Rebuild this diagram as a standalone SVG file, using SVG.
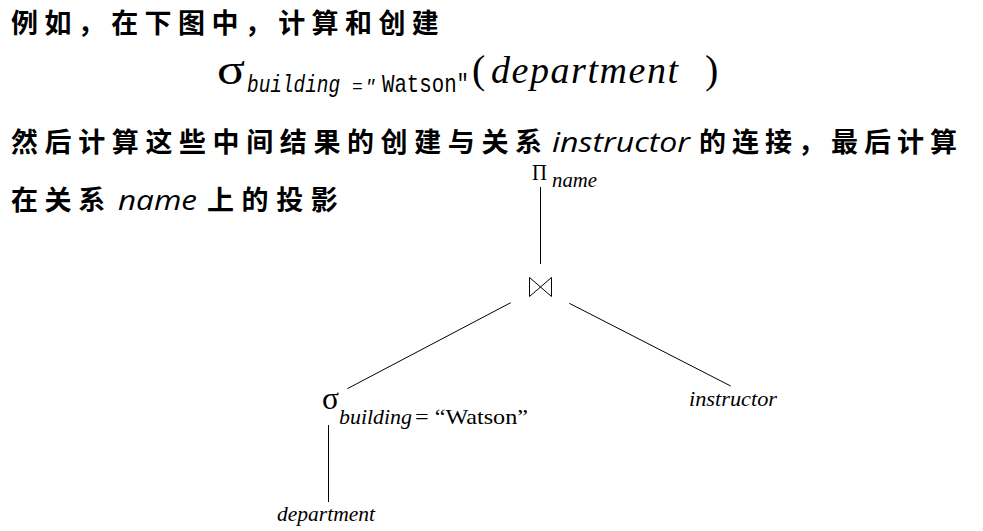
<svg xmlns="http://www.w3.org/2000/svg" width="983" height="531" viewBox="0 0 983 531">
<style>
.cjk{font-family:"Noto Sans CJK SC","Noto Sans CJK JP",sans-serif;font-size:27px;font-weight:700;fill:#000}
.sansi{font-family:"Open Sans","DejaVu Sans",sans-serif;font-style:italic;font-size:27px;fill:#000}
.ser{font-family:"Liberation Serif",serif;fill:#000}
.seri{font-family:"Liberation Serif",serif;font-style:italic;fill:#000}
.mono{font-family:"Liberation Mono",monospace;fill:#000}
.conn{stroke:#000;stroke-width:1;fill:none}
</style>
<rect width="983" height="531" fill="#fff"/>
<g id="paragraph">
<text class="cjk" x="11" y="33" letter-spacing="6.4">例如，在下图中，计算和创建</text>
<g id="formula">
<text class="ser" x="217" y="84" font-size="44" textLength="28" lengthAdjust="spacingAndGlyphs">σ</text>
<text class="mono" x="247" y="92" font-size="24" font-style="italic" textLength="93" lengthAdjust="spacingAndGlyphs">building</text>
<text class="mono" x="352" y="92" font-size="18" font-style="italic" letter-spacing="2">="</text>
<text class="mono" x="382" y="92" font-size="25" textLength="87" lengthAdjust="spacingAndGlyphs">Watson"</text>
<text class="ser" x="472" y="83" font-size="40">(</text>
<text class="seri" x="491" y="83" font-size="38" textLength="187" lengthAdjust="spacing">department</text>
<text class="ser" x="705" y="83" font-size="40">)</text>
</g>
<text class="cjk" x="11" y="152" letter-spacing="6.6">然后计算这些中间结果的创建与关系</text>
<text class="sansi" x="552" y="152" textLength="138" lengthAdjust="spacingAndGlyphs">instructor</text>
<text class="cjk" x="699" y="152" letter-spacing="6">的连接，最后计算</text>
<text class="cjk" x="11" y="210" letter-spacing="6.6">在关系</text>
<text class="sansi" x="118" y="210" textLength="79" lengthAdjust="spacingAndGlyphs">name</text>
<text class="cjk" x="207" y="210" letter-spacing="7.6">上的投影</text>
</g>
<g id="connectors">
<line class="conn" x1="540.5" y1="187" x2="540.5" y2="264"/>
<line class="conn" x1="510.7" y1="302.7" x2="347.3" y2="388.7"/>
<line class="conn" x1="569.3" y1="303.3" x2="730.7" y2="386"/>
<line class="conn" x1="328.5" y1="425" x2="328.5" y2="502"/>
</g>
<g id="node-projection">
<text class="ser" x="532" y="180" font-size="23" textLength="15" lengthAdjust="spacingAndGlyphs">Π</text>
<text class="seri" x="552" y="187" font-size="21" textLength="45" lengthAdjust="spacingAndGlyphs">name</text>
</g>
<g id="node-join">
<path class="conn" d="M529.5,277.5 L529.5,296.5 L551.5,277.5 L551.5,296.5 Z"/>
</g>
<g id="node-selection">
<text class="ser" x="322" y="409" font-size="32" textLength="17" lengthAdjust="spacingAndGlyphs">σ</text>
<text class="seri" x="339" y="424" font-size="20" textLength="73" lengthAdjust="spacingAndGlyphs">building</text>
<text class="ser" x="415" y="424" font-size="21" textLength="113" lengthAdjust="spacingAndGlyphs">= “Watson”</text>
</g>
<g id="node-instructor">
<text class="seri" x="689" y="406" font-size="20" textLength="88" lengthAdjust="spacingAndGlyphs">instructor</text>
</g>
<g id="node-department">
<text class="seri" x="277" y="521" font-size="20" textLength="98" lengthAdjust="spacingAndGlyphs">department</text>
</g>
</svg>
